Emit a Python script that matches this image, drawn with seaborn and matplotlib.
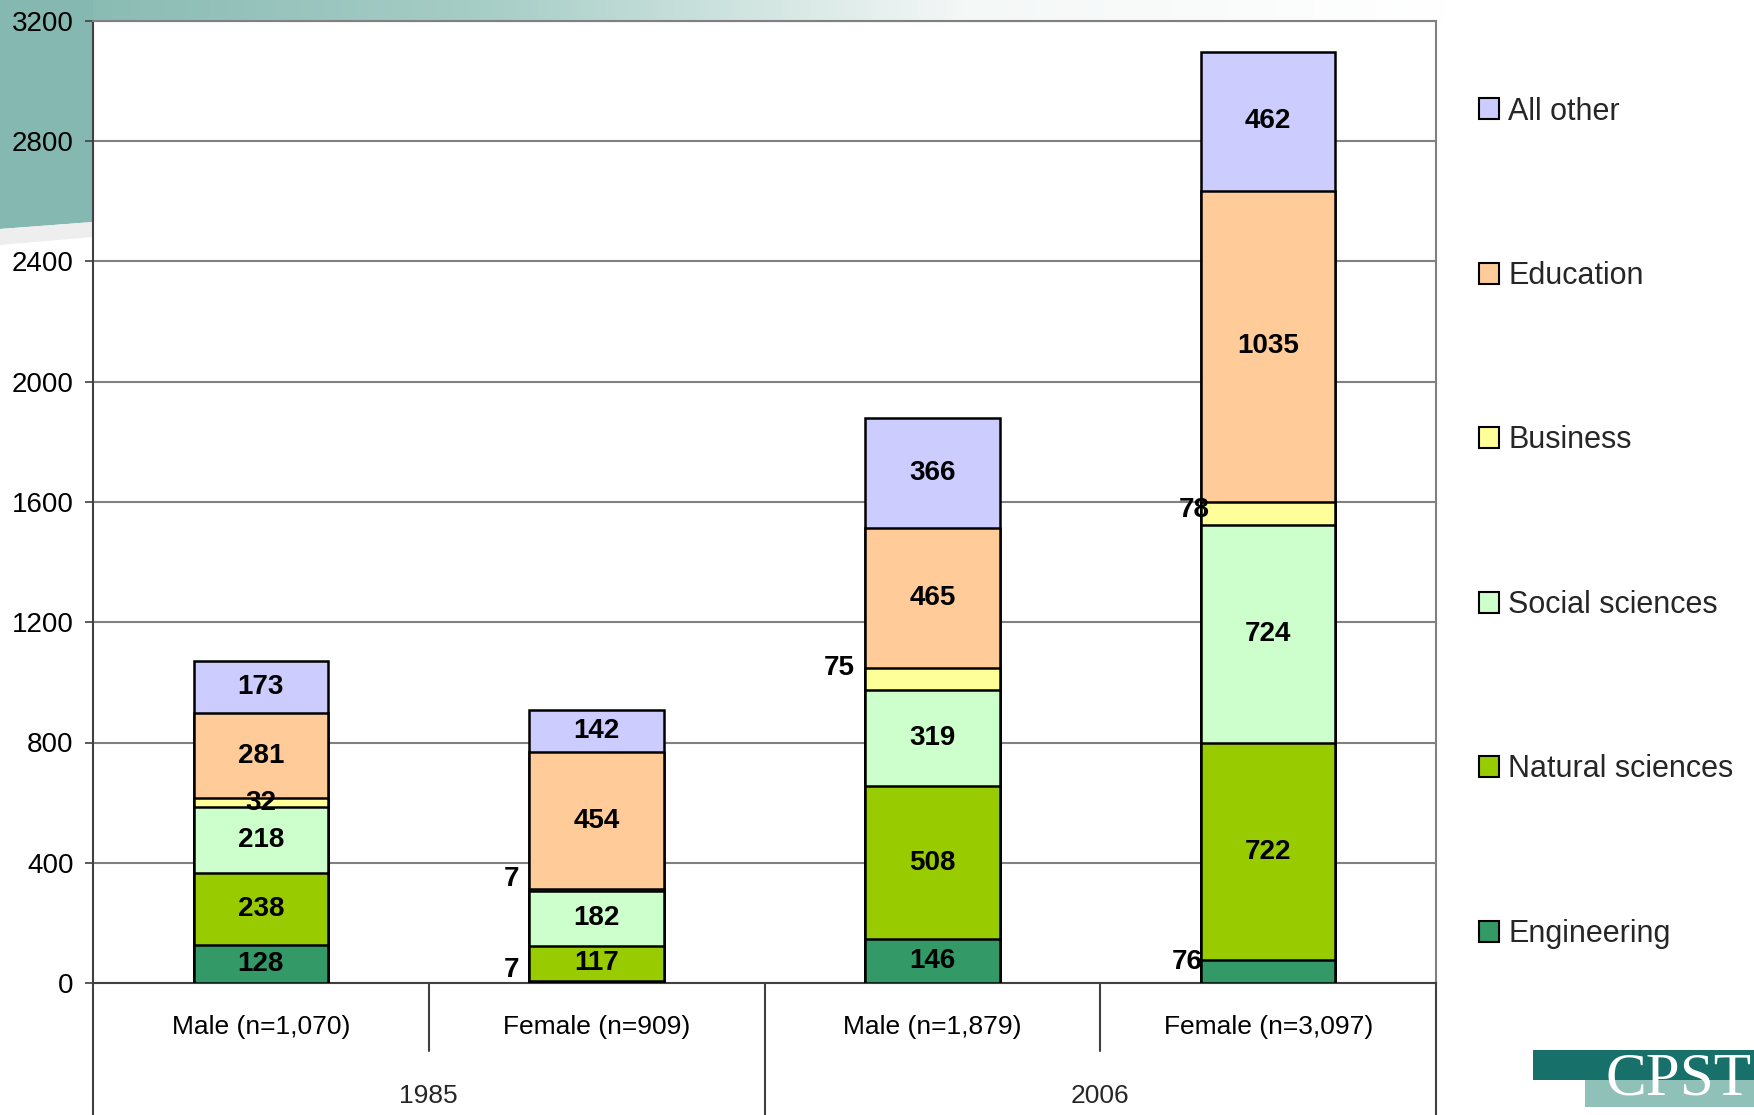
import numpy as np
import matplotlib
matplotlib.use('Agg')
import matplotlib.pyplot as plt
import matplotlib.transforms as mtransforms
from matplotlib.patches import Patch, Polygon, Rectangle
import seaborn as sns

# data
groups = ['Male (n=1,070)', 'Female (n=909)', 'Male (n=1,879)', 'Female (n=3,097)']
years = ['1985', '2006']
fields = ['Engineering', 'Natural sciences', 'Social sciences', 'Business', 'Education', 'All other']
engineering = [128, 7, 146, 76]
natural = [238, 117, 508, 722]
social = [218, 182, 319, 724]
business = [32, 7, 75, 78]
education = [281, 454, 465, 1035]
all_other = [173, 142, 366, 462]
colors = ['#339966', '#99CC00', '#CCFFCC', '#FFFF99', '#FFCC99', '#CCCCFF']

sns.set_theme(style='white')
plt.rcParams['font.family'] = ['Liberation Sans', 'DejaVu Sans']

W, H = 1754, 1115
fig = plt.figure(figsize=(W / 100, H / 100), dpi=100)

# background decoration (teal band + corner block)
bg = fig.add_axes([0, 0, 1, 1], zorder=-10)
bg.set_xlim(0, W)
bg.set_ylim(H, 0)
bg.axis('off')
grad = np.linspace(0, 1, 256)[None, :]
cmap = matplotlib.colors.LinearSegmentedColormap.from_list('band', ['#84b8b0', '#a6cdc6', '#f4f8f7', '#ffffff'])
bg.imshow(grad, extent=[0, 1450, 21, 0], aspect='auto', cmap=cmap)
bg.add_patch(Polygon([[0, 0], [93, 0], [93, 222], [0, 229]], color='#84b8b0', lw=0))
bg.add_patch(Polygon([[0, 229], [93, 222], [93, 237], [0, 245]], color='#eeeeee', lw=0))
# logo
bg.add_patch(Rectangle((1533, 1050), 221, 30, color='#17706a', lw=0))
bg.add_patch(Rectangle((1585, 1080), 169, 27, color='#8fc1b9', lw=0))
bg.text(1606, 1080, 'CPST', color='white', fontsize=44, family='Liberation Serif',
        ha='left', va='center')

ax = fig.add_axes([93 / W, (H - 983) / H, (1436 - 93) / W, (983 - 21) / H])

values = np.array([engineering, natural, social, business, education, all_other])
cum = values.cumsum(axis=0)

# stacked bars: draw cumulative totals from the top series down
for i in range(len(fields) - 1, -1, -1):
    sns.barplot(x=groups, y=cum[i], order=groups, color=colors[i], saturation=1,
                width=0.4, edgecolor='black', linewidth=1.8, errorbar=None, ax=ax, zorder=3)

# labels; a few small segments are labelled to the left of the bar
outside = {(0, 1): (-10, 12), (3, 1): (-10, 11), (3, 2): (-10, 11), (3, 3): (9, 4), (0, 3): (2, 10)}
for i in range(len(fields)):
    for j in range(len(groups)):
        mid = cum[i, j] - values[i, j] / 2
        if (i, j) in outside:
            dx, dy = outside[(i, j)]
            ax.annotate(str(values[i, j]), xy=(j - 0.2, mid), xytext=(dx * 0.72, dy * 0.72),
                        textcoords='offset points', ha='right', va='center',
                        fontsize=20, fontweight='bold', color='black', zorder=5)
        else:
            ax.text(j, mid, str(values[i, j]), ha='center', va='center',
                    fontsize=20, fontweight='bold', color='black', zorder=5)

ax.set_xlim(-0.5, 3.5)
ax.set_ylim(0, 3200)
ax.set_yticks(np.arange(0, 3201, 400))
ax.yaxis.grid(True, color='#808080', linewidth=1.5, zorder=0)
ax.set_axisbelow(True)
ax.tick_params(axis='y', labelsize=20, length=6, width=1.2, pad=8, left=True, colors='#404040', labelcolor='black')
ax.tick_params(axis='x', labelsize=19, length=0, pad=23, labelcolor='black')
ax.set_xlabel('')
ax.set_ylabel('')
for s in ['top', 'right']:
    ax.spines[s].set_color('#808080')
    ax.spines[s].set_linewidth(1.5)
for s in ['left', 'bottom']:
    ax.spines[s].set_color('#404040')
    ax.spines[s].set_linewidth(1.5)

# category axis separators and year labels
trans = mtransforms.blended_transform_factory(ax.transData, ax.transAxes)
for x, y0 in [(-0.5, -0.14), (0.5, -0.071), (1.5, -0.14), (2.5, -0.071), (3.5, -0.14)]:
    ax.plot([x, x], [0, y0], transform=trans, color='#404040', lw=1.5, clip_on=False)
for k, yr in enumerate(years):
    ax.text(0.5 + 2 * k, -0.117, yr, transform=trans, ha='center', va='center', fontsize=19)

handles = [Patch(facecolor=colors[i], edgecolor='black', linewidth=1.5, label=fields[i])
           for i in range(len(fields) - 1, -1, -1)]
fig.legend(handles=handles, loc='upper left', bbox_to_anchor=(1451 / W, 1 - 69 / H),
           frameon=False, fontsize=22, handlelength=0.68, handleheight=0.68,
           handletextpad=0.3, labelspacing=4.4)

fig.savefig('out.png', dpi=100)
